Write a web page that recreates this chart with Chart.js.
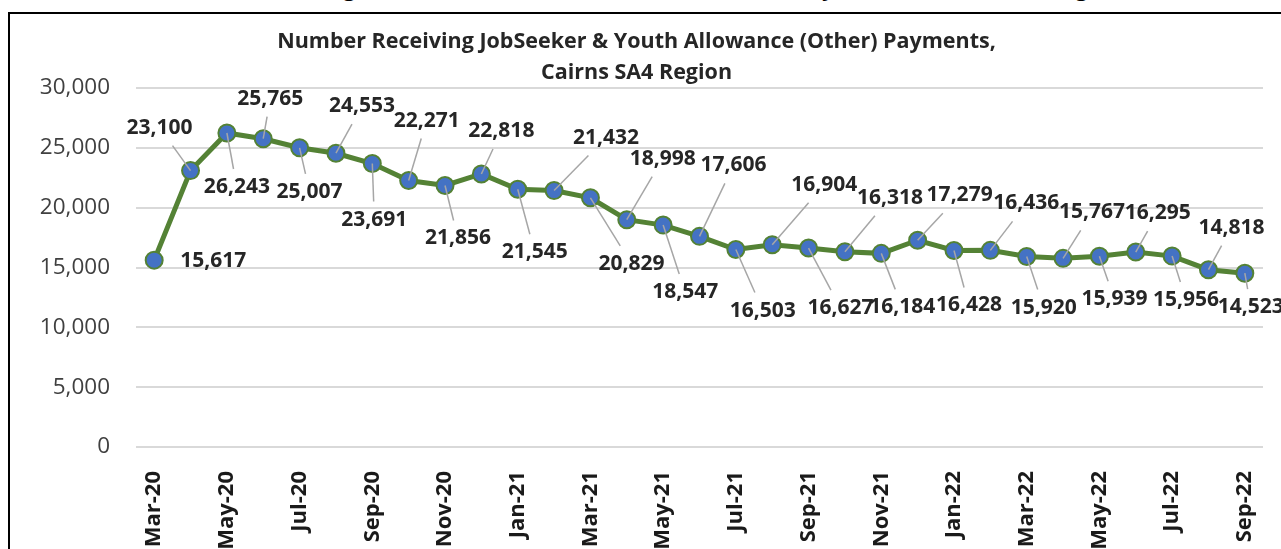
<!DOCTYPE html>
<html>
<head>
<meta charset="utf-8">
<script src="https://cdn.jsdelivr.net/npm/chart.js@4.4.0/dist/chart.umd.min.js"></script>
<style>
  html, body { margin: 0; padding: 0; background: #fff; width: 1281px; height: 549px; overflow: hidden; position: relative; }
  #outerTitle { position: absolute; left: 165px; top: -30px; line-height: 30px;
    font: bold 23px "Open Sans"; color: #000; white-space: nowrap; }
  #frame { position: absolute; left: 8px; top: 12px; width: 1330px; height: 600px; border: 2px solid #000; box-sizing: border-box; background: #fff; }
  #chart { position: absolute; left: 0; top: 0; }
</style>
</head>
<body>
<div id="outerTitle">Number Receiving JobSeeker &amp; Youth Allowance (Other) Payments, Cairns SA4 Region</div>
<div id="frame"><canvas id="chart" width="1300" height="560"></canvas></div>
<script>
// monthly counts, Cairns SA4
const months = [
  'Mar-20','Apr-20','May-20','Jun-20','Jul-20','Aug-20','Sep-20','Oct-20','Nov-20','Dec-20',
  'Jan-21','Feb-21','Mar-21','Apr-21','May-21','Jun-21','Jul-21','Aug-21','Sep-21','Oct-21',
  'Nov-21','Dec-21','Jan-22','Feb-22','Mar-22','Apr-22','May-22','Jun-22','Jul-22','Aug-22','Sep-22'
]
const recipients = [
  15617, 23100, 26243, 25765, 25007, 24553, 23691, 22271, 21856, 22818,
  21545, 21432, 20829, 18998, 18547, 17606, 16503, 16904, 16627, 16318,
  16184, 17279, 16428, 16436, 15920, 15767, 15939, 16295, 15956, 14818, 14523
]
const yTicks = [0, 5000, 10000, 15000, 20000, 25000, 30000]

// where each value label sits relative to its marker (px), like the moved excel labels
const labelOffsets = [
  [59, 1], [-31, -43], [10, 54], [7, -40], [10, 44], [26, -47], [2, 56], [18, -60], [13, 53], [20, -43],
  [17, 63], [52, -53], [41, 66], [36, -61], [22, 67], [34, -71], [27, 61], [52, -60], [32, 60], [45, -54],
  [21, 54], [42, -45], [15, 55], [36, -47], [17, 51], [29, -46], [15, 43], [22, -39], [14, 44], [23, -42], [6, 34]
]

const fmt = v => v.toLocaleString('en-US')

// the page heading above the frame is cut off; line its "g" up with the picture
const headCtx = document.createElement('canvas').getContext('2d')
headCtx.font = 'bold 23px "Open Sans"'
document.getElementById('outerTitle').style.left = (343 - headCtx.measureText('Number Receivin').width) + 'px'

// value labels with grey leader lines
const leaderLabels = {
  id: 'leaderLabels',
  afterDatasetsDraw(chart) {
    const ctx = chart.ctx
    const pts = chart.getDatasetMeta(0).data
    ctx.save()
    ctx.font = 'bold 21px "Open Sans"'
    ctx.textAlign = 'center'
    ctx.textBaseline = 'middle'
    pts.forEach((p, i) => {
      const dx = labelOffsets[i][0], dy = labelOffsets[i][1]
      const text = fmt(recipients[i])
      const lx = p.x + dx, ly = p.y + dy
      if (Math.abs(dy) > 20) {
        const hw = ctx.measureText(text).width / 2 + 4, hh = 18
        const t = Math.min(dx ? hw / Math.abs(dx) : 99, hh / Math.abs(dy))
        ctx.beginPath()
        ctx.moveTo(p.x, p.y)
        ctx.lineTo(lx - dx * t, ly - dy * t)
        ctx.strokeStyle = '#A6A6A6'
        ctx.lineWidth = 1.5
        ctx.stroke()
      }
      ctx.fillStyle = '#262626'
      ctx.fillText(text, lx, ly)
    })
    ctx.restore()
  }
}

const ctx = document.getElementById('chart').getContext('2d')
const chart = new Chart(ctx, {
  type: 'line',
  data: {
    labels: months,
    datasets: [{
      data: recipients,
      borderColor: '#548235',
      borderWidth: 5,
      backgroundColor: '#4472C4',
      pointBackgroundColor: '#4472C4',
      pointBorderColor: '#548235',
      pointBorderWidth: 2,
      pointRadius: 8.5,
      tension: 0
    }]
  },
  options: {
    responsive: false,
    animation: false,
    layout: { padding: { top: 0, left: 0, right: 47, bottom: 0 } },
    plugins: {
      legend: { display: false },
      tooltip: { enabled: false },
      title: {
        display: true,
        text: ['Number Receiving JobSeeker & Youth Allowance (Other) Payments,', 'Cairns SA4 Region'],
        color: '#262626',
        font: { family: 'Open Sans', size: 21.5, weight: 'bold', lineHeight: 1.42 },
        padding: { top: 13, bottom: 0 }
      }
    },
    scales: {
      x: {
        offset: true,
        grid: { display: false },
        border: { display: false },
        afterFit(scale) { scale.height = 127 },
        ticks: {
          autoSkip: false,
          maxRotation: 90,
          minRotation: 90,
          padding: 16,
          color: '#1a1a1a',
          font: { family: 'Open Sans', size: 22, weight: 'bold' },
          callback: (v, i) => i % 2 === 0 ? months[i] : ''
        }
      },
      y: {
        min: 0,
        max: 30000,
        afterFit(scale) { scale.width = 126 },
        afterBuildTicks(scale) { scale.ticks = yTicks.map(v => ({ value: v })) },
        grid: { color: '#D9D9D9', lineWidth: 2, drawTicks: false },
        border: { display: false },
        ticks: {
          padding: 26,
          color: '#404040',
          font: { family: 'Open Sans', size: 22.5 },
          callback: v => fmt(v)
        }
      }
    }
  },
  plugins: [leaderLabels]
})
</script>
</body>
</html>
